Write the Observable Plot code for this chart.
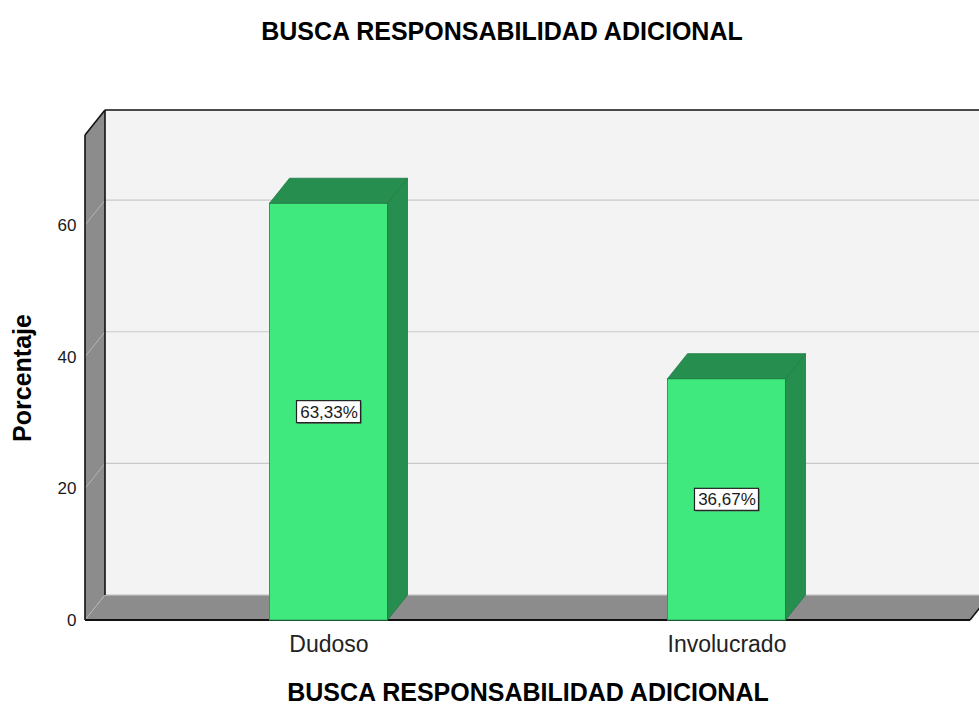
<!DOCTYPE html>
<html>
<head>
<meta charset="utf-8">
<script src="https://cdn.jsdelivr.net/npm/d3@7"></script>
<script src="https://cdn.jsdelivr.net/npm/@observablehq/plot@0.6"></script>
<style>
  html, body { margin: 0; padding: 0; background: white; }
  #chart svg { display: block; }
</style>
</head>
<body>
<div id="chart"></div>
<script>
// ---- data ----
const categories = ["Dudoso", "Involucrado"];
const percentages = [63.33, 36.67];
const valueLabels = ["63,33%", "36,67%"];
const yTicks = [0, 20, 40, 60];
const yMax = 73.7;
const chartTitle = "BUSCA RESPONSABILIDAD ADICIONAL";
const xTitle = "BUSCA RESPONSABILIDAD ADICIONAL";
const yTitle = "Porcentaje";

const data = categories.map((c, i) => ({cat: c, val: percentages[i], label: valueLabels[i]}));

// ---- 3D look ----
const DX = 20, DY = -25;
const WALL = "#8c8c8c", BACK = "#f3f3f3", GRID = "#c8c8c8";
const FRONT = "#40e97d", DARK = "#268f4f";

function poly(g, pts, fill, stroke, sw) {
  g.append("polygon").attr("points", pts.map(p => p.join(",")).join(" "))
    .attr("fill", fill).attr("stroke", stroke || "none").attr("stroke-width", sw || 0);
}
function line(g, x1, y1, x2, y2, stroke, sw) {
  g.append("line").attr("x1", x1).attr("y1", y1).attr("x2", x2).attr("y2", y2)
    .attr("stroke", stroke).attr("stroke-width", sw);
}

function walls(index, scales, values, dims) {
  const {y} = scales;
  const g = d3.create("svg:g");
  const L = dims.marginLeft, R = dims.width - dims.marginRight;
  const y0 = y(0), yT = y(yMax);
  // back wall
  poly(g, [[L + DX, yT + DY], [R + DX + 40, yT + DY], [R + DX + 40, y0 + DY], [L + DX, y0 + DY]], BACK);
  // gridlines on back wall
  for (const t of yTicks) {
    line(g, L + DX, y(t) + DY, R + DX + 40, y(t) + DY, GRID, 1.2);
  }
  // left wall
  poly(g, [[L, y0], [L, yT], [L + DX, yT + DY], [L + DX, y0 + DY]], WALL);
  for (const t of yTicks) {
    line(g, L, y(t), L + DX, y(t) + DY, "#b4b4b4", 1);
  }
  // floor
  poly(g, [[L, y0], [R, y0], [R + DX, y0 + DY], [L + DX, y0 + DY]], WALL);
  line(g, L, y0, L + DX, y0 + DY, "#b4b4b4", 1);
  line(g, L + DX, y0 + DY, R + DX + 40, y0 + DY, "#d0d0d0", 1.2);
  // black edges
  line(g, L, yT, L, y0, "#111", 1.6);
  line(g, L, yT, L + DX, yT + DY, "#111", 1.6);
  line(g, L + DX, yT + DY, R + DX + 40, yT + DY, "#111", 1.6);
  line(g, L + DX, yT + DY, L + DX, y0 + DY, "#111", 1.6);
  line(g, L, y0, R, y0, "#111", 1.8);
  line(g, R, y0, R + DX, y0 + DY, "#111", 1.6);
  return g.node();
}

function barDepth(index, scales, values, dims) {
  const {x, y} = scales;
  const g = d3.create("svg:g");
  const bw = x.bandwidth();
  for (const d of data) {
    const x1 = x(d.cat), x2 = x1 + bw, yt = y(d.val), y0 = y(0);
    poly(g, [[x2, y0], [x2, yt], [x2 + DX, yt + DY], [x2 + DX, y0 + DY]], DARK, "#1f7a42", 0.8);
    poly(g, [[x1, yt], [x2, yt], [x2 + DX, yt + DY], [x1 + DX, yt + DY]], DARK, "#1f7a42", 0.8);
  }
  return g.node();
}

function labelBoxes(index, scales, values, dims) {
  const {x, y} = scales;
  const g = d3.create("svg:g");
  const bw = x.bandwidth();
  for (const d of data) {
    const cx = x(d.cat) + bw / 2, cy = y(d.val / 2);
    g.append("rect").attr("x", cx - 31).attr("y", cy - 10).attr("width", 64).attr("height", 22)
      .attr("fill", "#555");
    g.append("rect").attr("x", cx - 32).attr("y", cy - 11).attr("width", 64).attr("height", 22)
      .attr("fill", "white").attr("stroke", "#222").attr("stroke-width", 1.2);
  }
  return g.node();
}

const chart = Plot.plot({
  width: 979,
  height: 705,
  marginLeft: 85,
  marginRight: 9,
  marginTop: 135,
  marginBottom: 85,
  style: {fontFamily: "'Liberation Sans', Arial, sans-serif", background: "white", color: "#1a1a1a"},
  x: {type: "band", domain: categories, paddingInner: 0.7035, paddingOuter: 0.4636, round: false, label: null},
  y: {domain: [0, yMax], label: null},
  marks: [
    walls,
    Plot.barY(data, {x: "cat", y: "val", fill: FRONT, stroke: "#2c9e58", strokeWidth: 1}),
    barDepth,
    labelBoxes,
    Plot.text(data, {x: "cat", y: d => d.val / 2, text: "label", fontSize: 17, fill: "#1a1a1a"}),
    Plot.axisY({ticks: yTicks, tickSize: 0, tickPadding: 9, fontSize: 17, label: null}),
    Plot.axisX({tickSize: 0, tickPadding: 15, fontSize: 23, label: null, fill: "#222"}),
    Plot.text([chartTitle], {frameAnchor: "top", dx: -26, dy: -104, fontSize: 25, fontWeight: "bold", fill: "#000", lineAnchor: "middle", textAnchor: "middle"}),
    Plot.text([xTitle], {frameAnchor: "bottom", dy: 72, fontSize: 25, fontWeight: "bold", fill: "#000", lineAnchor: "middle", textAnchor: "middle"}),
    Plot.text([yTitle], {frameAnchor: "left", dx: -63, rotate: -90, fontSize: 25, fontWeight: "bold", fill: "#000", lineAnchor: "middle", textAnchor: "middle"})
  ]
});
document.getElementById("chart").appendChild(chart);
</script>
</body>
</html>
